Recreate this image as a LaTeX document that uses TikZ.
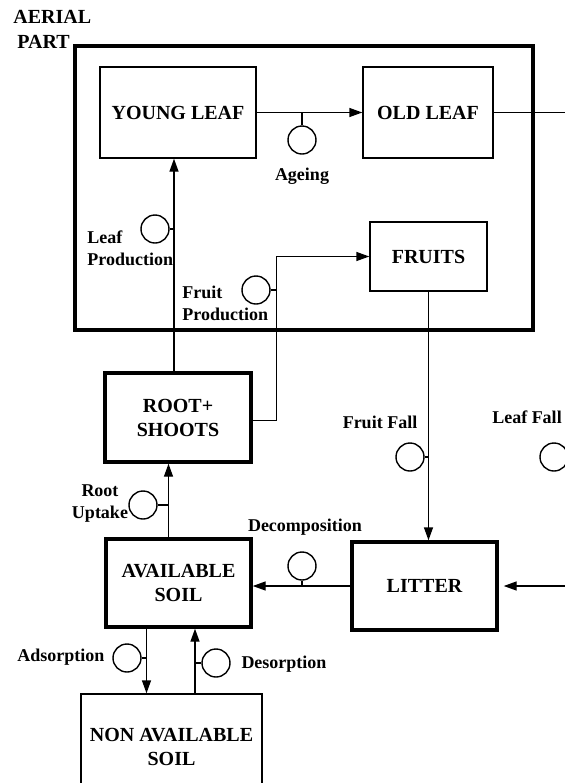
\documentclass[tikz,border=0pt]{standalone}
\usepackage{fontspec}
\setmainfont{Liberation Serif}
\usepackage{tikz}
\usetikzlibrary{positioning, arrows.meta, calc}

\tikzset{
	box/.style={draw, line width=0.7pt, align=center, inner sep=0pt, font=\bfseries\fontsize{10}{12}\selectfont},
	stock/.style={box, line width=1.7pt},
	valve/.style={draw, circle, line width=0.7pt, minimum size=14pt, inner sep=0pt},
	lbl/.style={inner sep=0pt, font=\bfseries\fontsize{9}{11}\selectfont},
	flow/.style={line width=0.7pt, -{Triangle[length=6.5pt,width=4.5pt]}},
	tick/.style={line width=0.7pt}
}

\begin{document}
\begin{tikzpicture}[x=0.5pt,y=-0.5pt]
				\useasboundingbox (0,0) rectangle (565,783);
				\clip (0,0) rectangle (565,783);
				
				\node[draw, line width=2pt, minimum width=229pt, minimum height=142pt] (aer) at (304,188) {};
				\node[lbl, font=\bfseries\fontsize{10}{12.5}\selectfont, align=left, anchor=north west] (aerlbl) at (13,10) {AERIAL\\\hspace{2pt}PART};
				
				\node[box, minimum width=78pt, minimum height=45.5pt] (yl) at (178,112.5) {YOUNG LEAF};
				\node[box, minimum width=65pt, minimum height=45.5pt] (ol) at (428,112.5) {OLD LEAF};
				\node[box, minimum width=58.5pt, minimum height=34.5pt] (fr) at (428.5,256.5) {FRUITS};
				\node[stock, minimum width=73pt, minimum height=44.5pt] (rs) at (178,417.5) {ROOT+\\SHOOTS};
				\node[stock, minimum width=72.5pt, minimum height=44pt] (as) at (178.5,583) {AVAILABLE\\SOIL};
				\node[stock, minimum width=72.5pt, minimum height=44pt] (lt) at (424.5,586) {LITTER};
				\node[box, minimum width=90.5pt, minimum height=53pt] (ns) at (171.5,747) {NON AVAILABLE\\SOIL};
				
				\node[valve] (ag) at (302,140) {};
				\node[valve] (lp) at (155,229) {};
				\node[valve] (fp) at (256,290) {};
				\node[valve] (ff) at (410,457) {};
				\node[valve] (lf) at (554,457) {};
				\node[valve] (dc) at (302,566) {};
				\node[valve] (ru) at (143,505) {};
				\node[valve] (ad) at (127,658) {};
				\node[valve] (de) at (216,663) {};
				
				\coordinate (lpx) at ([xshift=-2pt]rs.north);
				\coordinate (rsout) at ([yshift=-1.5pt]rs.east);
				\coordinate (fpx) at ([xshift=12pt]rsout);
				\coordinate (rux) at ([xshift=-5pt]as.north);
				\coordinate (adx) at ([xshift=-16pt]as.south);
				\coordinate (dex) at ([xshift=8.25pt]as.south);
				\coordinate (olout) at ([xshift=40pt]ol.east);
				\coordinate (lfin) at ([xshift=40pt]lt.east);
				
				\draw[flow] (yl) -- (ol);
				\draw[tick] (ol) -- (olout);
				\draw[flow] (lpx) -- (lpx |- yl.south);
				\draw[flow] (rsout) -- (fpx) |- (fr);
				\draw[flow] (fr) -- (fr |- lt.north);
				\draw[flow, shorten >=2.5pt] (lfin) -- (lt);
				\draw[flow] (lt) -- (lt -| as.east);
				\draw[flow] (rux) -- (rux |- rs.south);
				\draw[flow] (adx) -- (adx |- ns.north);
				\draw[flow] (dex |- ns.north) -- (dex);
				
				\draw[tick] (ag) -- (ag |- yl.east);
				\draw[tick] (lp) -- (lp -| lpx);
				\draw[tick] (fp) -- (fp -| fpx);
				\draw[tick] (ff) -- (ff -| fr.south);
				\draw[tick] (dc) -- (dc |- lt.west);
				\draw[tick] (ru) -- (ru -| rux);
				\draw[tick] (ad) -- (ad -| adx);
				\draw[tick] (de) -- (de -| dex);
				
				\node[lbl] (aglbl) at (302,176) {Ageing};
				\node[lbl, align=left, anchor=west] (lplbl) at (87,248) {Leaf\\Production};
				\node[lbl, align=left, anchor=west] (fplbl) at (182,303) {Fruit\\Production};
				\node[lbl] (fflbl) at (380,422) {Fruit Fall};
				\node[lbl] (lflbl) at (527,417) {Leaf Fall};
				\node[lbl] (dclbl) at (305,527) {Decomposition};
				\node[lbl, align=center] (rulbl) at (100,504) {Root\\Uptake};
				\node[lbl] (adlbl) at (61,657) {Adsorption};
				\node[lbl] (delbl) at (284,664) {Desorption};
\end{tikzpicture}
\end{document}
